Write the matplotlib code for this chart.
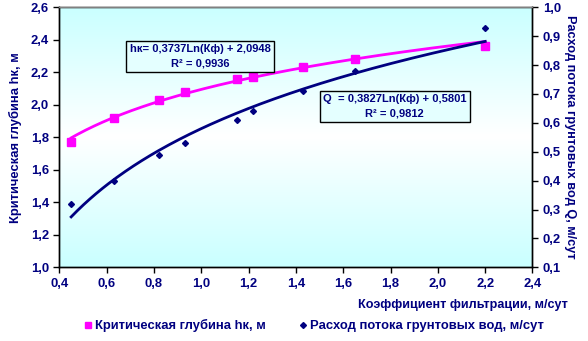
import matplotlib
matplotlib.use("Agg")
import matplotlib.pyplot as plt
import numpy as np
from matplotlib.lines import Line2D

# filtration coefficient, m/day
kf = [0.45, 0.63, 0.82, 0.93, 1.15, 1.22, 1.43, 1.65, 2.20]
# critical depth hk, m (left axis)
hk = [1.77, 1.92, 2.03, 2.08, 2.16, 2.17, 2.23, 2.28, 2.36]
# groundwater discharge Q, m/day (right axis)
q = [0.32, 0.40, 0.49, 0.53, 0.61, 0.64, 0.71, 0.78, 0.93]

# log trendlines y = a*ln(x) + b, with R^2
hk_fit = (0.3737, 2.0948, 0.9936)
q_fit = (0.3827, 0.5801, 0.9812)

x_ticks = [0.4, 0.6, 0.8, 1.0, 1.2, 1.4, 1.6, 1.8, 2.0, 2.2, 2.4]
left_ticks = [1.0, 1.2, 1.4, 1.6, 1.8, 2.0, 2.2, 2.4, 2.6]
right_ticks = [0.1, 0.2, 0.3, 0.4, 0.5, 0.6, 0.7, 0.8, 0.9, 1.0]

navy = "#000080"
pink = "#ff00ff"


def comma(v, nd=1):
    return f"{v:.{nd}f}".replace(".", ",")


plt.rcParams["font.family"] = ["Liberation Sans", "DejaVu Sans"]
plt.rcParams["font.weight"] = "bold"
plt.rcParams["axes.labelweight"] = "bold"

fig = plt.figure(figsize=(5.88, 3.41), dpi=100)
ax = fig.add_axes([0.1009, 0.2161, 0.8047, 0.7625])
ax2 = ax.twinx()

# background: cyan at top and bottom, white in the middle
grad = np.abs(np.linspace(-1, 1, 256))[:, None]
bg = np.ones((256, 1, 3))
bg[:, :, 0] = 1 - 0.21 * grad
ax.imshow(bg, extent=[0, 1, 0, 1], transform=ax.transAxes, aspect="auto", zorder=0)

xs = np.linspace(min(kf), max(kf), 200)
ax.plot(xs, hk_fit[0] * np.log(xs) + hk_fit[1], color=pink, lw=2, zorder=3)
ax.plot(kf, hk, ls="none", marker="s", ms=5.5, color=pink, zorder=4)
ax2.plot(xs, q_fit[0] * np.log(xs) + q_fit[1], color=navy, lw=2, zorder=3)
ax2.plot(kf, q, ls="none", marker="D", ms=3, color=navy, zorder=4)

ax.set_xlim(0.4, 2.4)
ax.set_ylim(1.0, 2.6)
ax2.set_ylim(0.1, 1.0)
ax.set_xticks(x_ticks)
ax.set_xticklabels([comma(v) for v in x_ticks])
ax.set_yticks(left_ticks)
ax.set_yticklabels([comma(v) for v in left_ticks])
ax2.set_yticks(right_ticks)
ax2.set_yticklabels([comma(v) for v in right_ticks])

for a in (ax, ax2):
    a.tick_params(colors="black", labelcolor=navy, labelsize=9.4, length=4, width=1, direction="out")
    for lab in a.get_xticklabels() + a.get_yticklabels():
        lab.set_fontweight("bold")
    for s in a.spines.values():
        s.set_color("black")
        s.set_linewidth(1)
ax2.spines["top"].set_color("#808080")

ax.set_ylabel("Критическая глубина hк, м", color=navy, fontsize=9.4, fontweight="bold", labelpad=6)
ax2.set_ylabel("Расход потока грунтовых вод Q, м/сут", color=navy, fontsize=9.2, fontweight="bold",
               rotation=-90, labelpad=11)
fig.text(568 / 588, 1 - 305 / 341, "Коэффициент фильтрации, м/сут", color=navy,
         fontsize=9.1, fontweight="bold", ha="right", va="center")

box = dict(boxstyle="square,pad=0.3", fc="#e4ffff", ec="black", lw=1)
ax.text(0.995, 2.30,
        f"hк= {comma(hk_fit[0], 4)}Ln(Кф) + {comma(hk_fit[1], 4)}\nR² = {comma(hk_fit[2], 4)}",
        color=navy, fontsize=8, fontweight="bold", ha="center", va="center",
        linespacing=1.55, bbox=box, zorder=6)
ax2.text(1.818, 0.658,
         f"Q  = {comma(q_fit[0], 4)}Ln(Кф) + {comma(q_fit[1], 4)}\nR² = {comma(q_fit[2], 4)}",
         color=navy, fontsize=8, fontweight="bold", ha="center", va="center",
         linespacing=1.55, bbox=box, zorder=6)

handles = [
    Line2D([], [], ls="none", marker="s", ms=4, color=pink),
    Line2D([], [], ls="none", marker="D", ms=3, color=navy),
]
leg = fig.legend(handles, ["Критическая глубина hк, м", "Расход потока грунтовых вод, м/сут"],
                 loc="center", bbox_to_anchor=(0.535, 0.045), ncol=2, frameon=False,
                 prop={"size": 9.4, "weight": "bold"},
                 handlelength=0.5, handletextpad=0.3, columnspacing=2.6)
for t in leg.get_texts():
    t.set_color(navy)

fig.savefig("out.png", dpi=100)
